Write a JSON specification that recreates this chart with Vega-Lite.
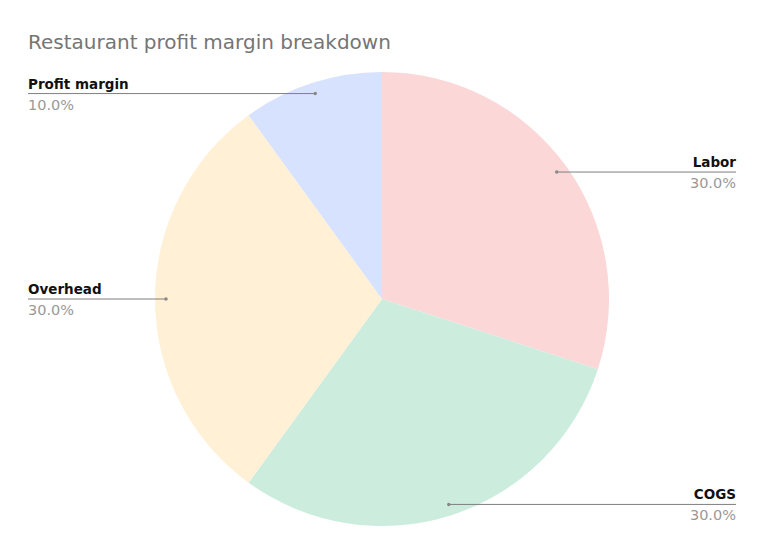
{
  "$schema": "https://vega.github.io/schema/vega-lite/v6.json",
  "width": 764,
  "height": 510,
  "autosize": {"type": "none"},
  "padding": {"top": 44, "left": 0, "right": 0, "bottom": 0},
  "background": "white",
  "config": {"view": {"stroke": null}, "font": "DejaVu Sans"},
  "title": {
    "text": "Restaurant profit margin breakdown",
    "anchor": "start",
    "frame": "group",
    "dx": 28,
    "offset": -25,
    "baseline": "alphabetic",
    "fontSize": 20,
    "fontWeight": "normal",
    "color": "#757575",
    "font": "DejaVu Sans"
  },
  "data": {
    "values": [
      {"category": "Labor", "value": 30},
      {"category": "COGS", "value": 30},
      {"category": "Overhead", "value": 30},
      {"category": "Profit margin", "value": 10}
    ]
  },
  "transform": [
    {"window": [{"op": "row_number", "as": "idx"}]},
    {"joinaggregate": [{"op": "sum", "field": "value", "as": "total"}]},
    {"window": [{"op": "sum", "field": "value", "as": "cum"}], "sort": [{"field": "idx"}], "frame": [null, 0]},
    {"calculate": "(datum.cum - datum.value/2) / datum.total * 2 * PI", "as": "mid"},
    {"calculate": "216 * sin(datum.mid)", "as": "lx"},
    {"calculate": "216 * cos(datum.mid)", "as": "ly"},
    {"calculate": "datum.lx > 0 ? 354 : -354", "as": "ex"},
    {"calculate": "format(datum.value / datum.total, '.1%')", "as": "pct"}
  ],
  "layer": [
    {
      "mark": {"type": "arc", "outerRadius": 227},
      "encoding": {
        "theta": {"field": "value", "type": "quantitative", "stack": true},
        "order": {"field": "idx", "type": "quantitative"},
        "color": {
          "field": "category",
          "type": "nominal",
          "scale": {
            "domain": ["Labor", "COGS", "Overhead", "Profit margin"],
            "range": ["#fcd7d7", "#ccedde", "#fff0d6", "#d6e2fe"]
          },
          "legend": null
        }
      }
    },
    {
      "mark": {"type": "rule", "color": "#7f7f7f", "strokeWidth": 1},
      "encoding": {
        "x": {"field": "lx", "type": "quantitative", "scale": {"domain": [-382, 382], "zero": false, "nice": false}, "axis": null},
        "x2": {"field": "ex"},
        "y": {"field": "ly", "type": "quantitative", "scale": {"domain": [-255, 255], "zero": false, "nice": false}, "axis": null}
      }
    },
    {
      "mark": {"type": "point", "filled": true, "size": 12, "color": "#888888", "opacity": 1},
      "encoding": {
        "x": {"field": "lx", "type": "quantitative"},
        "y": {"field": "ly", "type": "quantitative"}
      }
    },
    {
      "mark": {"type": "text", "fontSize": 13.5, "fontWeight": "bold", "color": "#111111", "baseline": "alphabetic", "dy": -5, "align": {"expr": "datum.ex > 0 ? 'right' : 'left'"}},
      "encoding": {
        "x": {"field": "ex", "type": "quantitative"},
        "y": {"field": "ly", "type": "quantitative"},
        "text": {"field": "category"}
      }
    },
    {
      "mark": {"type": "text", "fontSize": 14.5, "color": "#999999", "baseline": "top", "dy": 5, "align": {"expr": "datum.ex > 0 ? 'right' : 'left'"}},
      "encoding": {
        "x": {"field": "ex", "type": "quantitative"},
        "y": {"field": "ly", "type": "quantitative"},
        "text": {"field": "pct"}
      }
    }
  ]
}
